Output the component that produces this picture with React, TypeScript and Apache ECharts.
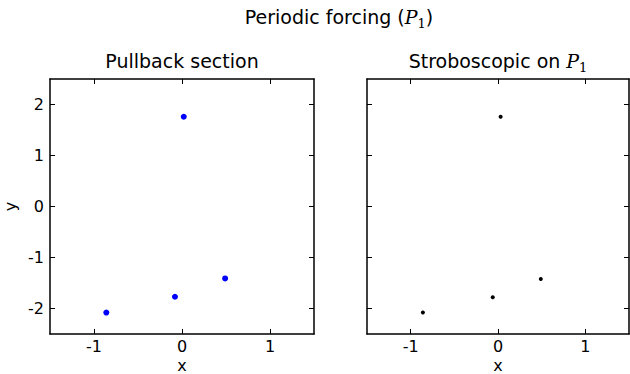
import React, { useEffect, useRef } from "react";
import * as echarts from "echarts";

const pullbackX = [0.02, -0.86, -0.08, 0.49];
const pullbackY = [1.76, -2.08, -1.77, -1.41];
const stroboX = [0.03, -0.86, -0.06, 0.49];
const stroboY = [1.76, -2.08, -1.78, -1.42];
const xTicks = [-1, 0, 1];
const yTicks = [-2, -1, 0, 1, 2];
const xRange = [-1.5, 1.5];
const yRange = [-2.5, 2.5];

const FONT = "DejaVu Sans";

function richTitle(prefix: string, suffix: string) {
  return `{t|${prefix}}{p|P}{s|1}{t|${suffix}}`;
}
const rich = {
  t: { fontFamily: FONT, fontSize: 19, color: "#000", lineHeight: 26 },
  p: { fontFamily: "DejaVu Serif", fontStyle: "italic", fontSize: 19, color: "#000", lineHeight: 26 },
  s: { fontFamily: "DejaVu Serif", fontSize: 13, color: "#000", lineHeight: 14, verticalAlign: "bottom" },
};

export default function App() {
  const ref = useRef<HTMLDivElement>(null);
  useEffect(() => {
    if (!ref.current) return;
    const chart = echarts.init(ref.current, null, { renderer: "svg" });
    const grids = [
      { left: 50, top: 79, width: 264, height: 255, outerBoundsMode: "none", containLabel: false },
      { left: 367, top: 79, width: 262, height: 255, outerBoundsMode: "none", containLabel: false },
    ];
    const xAxes: any[] = [];
    const yAxes: any[] = [];
    for (let g = 0; g < 2; g++) {
      for (const pos of ["bottom", "top"]) {
        const main = pos === "bottom";
        xAxes.push({
          type: "value",
          gridIndex: g,
          position: pos,
          min: xRange[0],
          max: xRange[1],
          axisLine: { show: true, onZero: false, lineStyle: { color: "#000", width: 1.5 } },
          axisTick: { show: true, inside: true, length: 5, customValues: xTicks, lineStyle: { color: "#000", width: 1 } },
          axisLabel: { show: main, customValues: xTicks, fontFamily: FONT, fontSize: 16, lineHeight: 17, color: "#000", margin: 4 },
          splitLine: { show: false },
        });
      }
      for (const pos of ["left", "right"]) {
        const main = pos === "left" && g === 0;
        yAxes.push({
          type: "value",
          gridIndex: g,
          position: pos,
          min: yRange[0],
          max: yRange[1],
          name: main ? "y" : "",
          nameLocation: "middle",
          nameGap: 32,
          nameTextStyle: { fontFamily: FONT, fontSize: 16, color: "#000" },
          axisLine: { show: true, onZero: false, lineStyle: { color: "#000", width: 1.5 } },
          axisTick: { show: true, inside: true, length: 5, customValues: yTicks, lineStyle: { color: "#000", width: 1 } },
          axisLabel: { show: main, customValues: yTicks, fontFamily: FONT, fontSize: 16, color: "#000", margin: 6 },
          splitLine: { show: false },
        });
      }
    }
    const xName = (cx: number) => ({
      type: "text",
      x: cx,
      y: 372,
      style: { text: "x", fontFamily: FONT, fontSize: 16, lineHeight: 14, fill: "#000", align: "center", verticalAlign: "bottom" },
    });
    chart.setOption({
      animation: false,
      backgroundColor: "#fff",
      grid: grids,
      xAxis: xAxes,
      yAxis: yAxes,
      graphic: [
        { type: "text", x: 339, y: 4, style: { text: richTitle("Periodic forcing (", ")"), rich, align: "center", verticalAlign: "top" } },
        { type: "text", x: 182, y: 48, style: { text: "{t|Pullback section}", rich, align: "center", verticalAlign: "top" } },
        { type: "text", x: 498, y: 48, style: { text: richTitle("Stroboscopic on ", ""), rich, align: "center", verticalAlign: "top" } },
        xName(182),
        xName(498),
      ],
      series: [
        {
          type: "scatter",
          xAxisIndex: 0,
          yAxisIndex: 0,
          symbolSize: 6,
          itemStyle: { color: "#0000ff", opacity: 1 },
          data: pullbackX.map((x, i) => [x, pullbackY[i]]),
        },
        {
          type: "scatter",
          xAxisIndex: 2,
          yAxisIndex: 2,
          symbolSize: 4,
          itemStyle: { color: "#000", opacity: 1 },
          data: stroboX.map((x, i) => [x, stroboY[i]]),
        },
      ],
    });
    return () => chart.dispose();
  }, []);
  return <div ref={ref} style={{ position: "fixed", left: 0, top: 0, width: 630, height: 374 }} />;
}
